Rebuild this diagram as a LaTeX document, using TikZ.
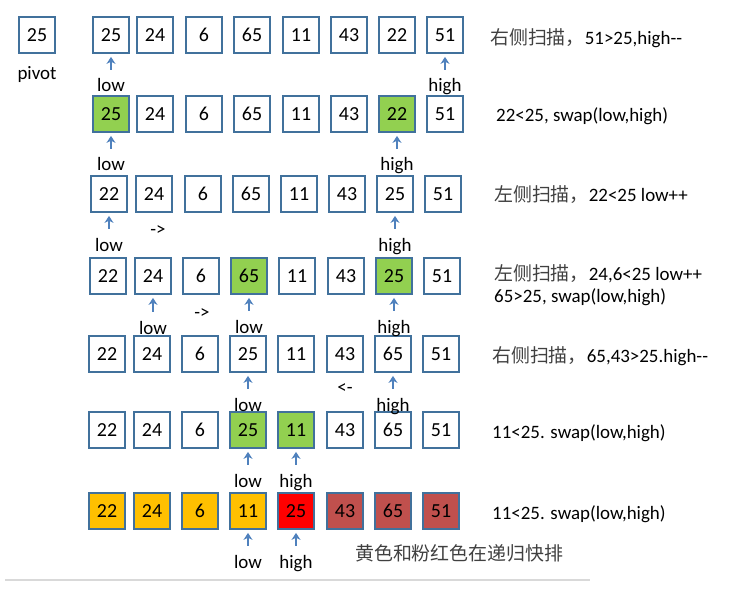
\documentclass[tikz,border=0pt]{standalone}
\usepackage{fontspec}
\setmainfont{Carlito}
\newfontfamily\cjk{Noto Sans CJK SC}
\usetikzlibrary{arrows.meta}

\definecolor{boxline}{HTML}{41719C}
\definecolor{ptrblue}{HTML}{4F81BD}
\definecolor{swapgreen}{HTML}{92D050}
\definecolor{leftpart}{HTML}{FFC000}
\definecolor{rightpart}{HTML}{C0504D}
\definecolor{cjkgray}{HTML}{404040}

\begin{document}
\begin{tikzpicture}[
    x=1bp, y=-1bp,
    every node/.style={font=\fontsize{19}{22}\selectfont},
    cell/.style={rectangle, draw=boxline, line width=1.8bp, minimum size=36bp, inner sep=0pt, font=\fontsize{20}{22}\selectfont},
    hot/.style={cell, fill=swapgreen},
    ptr/.style={draw=ptrblue, line width=2.2bp, -{Stealth[length=7bp,width=9bp]}, shorten <=9bp, shorten >=3bp},
    tag/.style={anchor=base, inner sep=0pt, text height=13bp, text depth=4bp},
    note/.style={anchor=base west, inner sep=0pt}
]
\useasboundingbox (0,0) rectangle (735,601);

% Define pivot
\node[cell] (p) at (37, 35) {25};
\node[anchor=base, inner sep=0pt] (pl) at (37, 80) {pivot};

% Row 1
\node[cell] (11) at (111, 35) {25};
\node[cell] (12) at (155, 35) {24};
\node[cell] (13) at (204, 35) {6};
\node[cell] (14) at (252, 35) {65};
\node[cell] (15) at (301, 35) {11};
\node[cell] (16) at (349, 35) {43};
\node[cell] (17) at (397, 35) {22};
\node[cell] (18) at (445, 35) {51};

% Row 2
\node[hot]  (21) at (111, 114) {25};
\node[cell] (22) at (155, 114) {24};
\node[cell] (23) at (204, 114) {6};
\node[cell] (24) at (252, 114) {65};
\node[cell] (25) at (301, 114) {11};
\node[cell] (26) at (349, 114) {43};
\node[hot]  (27) at (397, 114) {22};
\node[cell] (28) at (445, 114) {51};

% Row 3
\node[cell] (31) at (109, 194) {22};
\node[cell] (32) at (154, 194) {24};
\node[cell] (33) at (203, 194) {6};
\node[cell] (34) at (251, 194) {65};
\node[cell] (35) at (299, 194) {11};
\node[cell] (36) at (347, 194) {43};
\node[cell] (37) at (395, 194) {25};
\node[cell] (38) at (443, 194) {51};

% Row 4
\node[cell] (41) at (108, 276) {22};
\node[cell] (42) at (153, 276) {24};
\node[cell] (43) at (201, 276) {6};
\node[hot]  (44) at (249, 276) {65};
\node[cell] (45) at (297, 276) {11};
\node[cell] (46) at (346, 276) {43};
\node[hot]  (47) at (394, 276) {25};
\node[cell] (48) at (442, 276) {51};

% Row 5
\node[cell] (51) at (107, 354) {22};
\node[cell] (52) at (152, 354) {24};
\node[cell] (53) at (200, 354) {6};
\node[cell] (54) at (248, 354) {25};
\node[cell] (55) at (296, 354) {11};
\node[cell] (56) at (345, 354) {43};
\node[cell] (57) at (393, 354) {65};
\node[cell] (58) at (441, 354) {51};

% Row 6
\node[cell] (61) at (107, 430) {22};
\node[cell] (62) at (152, 430) {24};
\node[cell] (63) at (200, 430) {6};
\node[hot]  (64) at (248, 430) {25};
\node[hot]  (65) at (296, 430) {11};
\node[cell] (66) at (345, 430) {43};
\node[cell] (67) at (393, 430) {65};
\node[cell] (68) at (441, 430) {51};

% Row 7 (partitioned)
\node[cell, fill=leftpart]  (71) at (107, 511) {22};
\node[cell, fill=leftpart]  (72) at (152, 511) {24};
\node[cell, fill=leftpart]  (73) at (200, 511) {6};
\node[cell, fill=leftpart]  (74) at (248, 511) {11};
\node[cell, fill=red]       (75) at (296, 511) {25};
\node[cell, fill=rightpart] (76) at (345, 511) {43};
\node[cell, fill=rightpart] (77) at (393, 511) {65};
\node[cell, fill=rightpart] (78) at (441, 511) {51};

% Define low / high pointers
\node[tag] (l1) at (111, 92) {low};
\node[tag] (h1) at (445, 92) {high};
\node[tag] (l2) at (111, 171) {low};
\node[tag] (h2) at (397, 171) {high};
\node[tag] (l3) at (109, 251) {low};
\node[tag] (h3) at (395, 251) {high};
\node[tag] (l4) at (153, 334) {low};
\node[tag] (m4) at (249, 333) {low};
\node[tag] (h4) at (394, 333) {high};
\node[tag] (l5) at (248, 411) {low};
\node[tag] (h5) at (393, 411) {high};
\node[tag] (l6) at (248, 487) {low};
\node[tag] (h6) at (296, 487) {high};
\node[tag] (l7) at (248, 568) {low};
\node[tag] (h7) at (296, 568) {high};

\path[ptr] (l1.north) -- (11.south);
\path[ptr] (h1.north) -- (18.south);
\path[ptr] (l2.north) -- (21.south);
\path[ptr] (h2.north) -- (27.south);
\path[ptr] (l3.north) -- (31.south);
\path[ptr] (h3.north) -- (37.south);
\path[ptr] (l4.north) -- (42.south);
\path[ptr] (m4.north) -- (44.south);
\path[ptr] (h4.north) -- (47.south);
\path[ptr] (l5.north) -- (54.south);
\path[ptr] (h5.north) -- (57.south);
\path[ptr] (l6.north) -- (64.south);
\path[ptr] (h6.north) -- (65.south);
\path[ptr] (l7.north) -- (74.south);
\path[ptr] (h7.north) -- (75.south);

% Scan directions
\node (d3) at (158, 231) {->};
\node (d4) at (202, 314) {->};
\node (d5) at (345, 389) {<-};

% Define notes
\node[note] (n1) at (490, 45) {{\color{cjkgray}\cjk 右侧扫描，}51>25,high-{}-};
\node[note] (n2) at (496, 122) {22<25, swap(low,high)};
\node[note] (n3) at (494, 202) {{\color{cjkgray}\cjk 左侧扫描，}22<25 low++};
\node[note] (n4) at (494, 280) {{\color{cjkgray}\cjk 左侧扫描，}24,6<25 low++};
\node[note] (n4b) at (494, 302) {65>25, swap(low,high)};
\node[note] (n5) at (492, 362) {{\color{cjkgray}\cjk 右侧扫描，}65,43>25.high-{}-};
\node[note] (n6) at (492, 438) {11<25. swap(low,high)};
\node[note] (n7) at (492, 519) {11<25. swap(low,high)};
\node[note, text=cjkgray, font=\fontsize{19}{22}\selectfont\cjk] (n8) at (355, 560) {黄色和粉红色在递归快排};

% Bottom rule
\coordinate (r0) at (5, 580);
\coordinate (r1) at (590, 580);
\draw[gray!30, line width=2bp] (r0) -- (r1);

\end{tikzpicture}
\end{document}
